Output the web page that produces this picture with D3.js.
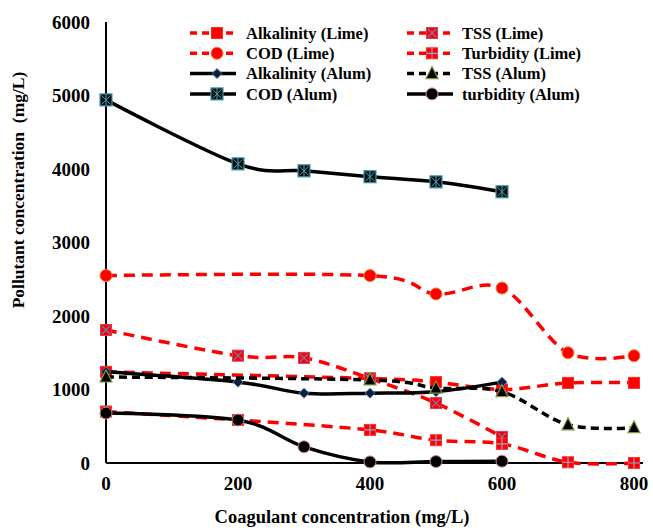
<!DOCTYPE html>
<html>
<head>
<meta charset="utf-8">
<script src="https://cdn.jsdelivr.net/npm/d3@7"></script>
<style>
body { margin: 0; background: #fff; }
text { font-family: "Liberation Serif", "Times New Roman", serif; font-weight: bold; }
</style>
</head>
<body>
<div id="chart"></div>
<script>
var width = 653
var height = 530

// coagulant doses (mg/L)
var xTicks = [0, 200, 400, 600, 800]
var yTicks = [0, 1000, 2000, 3000, 4000, 5000, 6000]

var alkLimeX = [0, 400, 500, 600, 700, 800]
var alkLimeY = [1240, 1150, 1100, 1000, 1090, 1090]
var tssLimeX = [0, 200, 300, 400, 500, 600]
var tssLimeY = [1810, 1460, 1430, 1150, 815, 355]
var codLimeX = [0, 400, 500, 600, 700, 800]
var codLimeY = [2550, 2550, 2300, 2380, 1500, 1460]
var turbLimeX = [0, 200, 400, 500, 600, 700, 800]
var turbLimeY = [700, 585, 450, 310, 260, 10, 0]
var alkAlumX = [0, 200, 300, 400, 500, 600]
var alkAlumY = [1240, 1100, 950, 950, 970, 1100]
var tssAlumX = [0, 400, 500, 600, 700, 800]
var tssAlumY = [1170, 1130, 1020, 970, 520, 480]
var codAlumX = [0, 200, 300, 400, 500, 600]
var codAlumY = [4940, 4070, 3975, 3895, 3825, 3690]
var turbAlumX = [0, 200, 300, 400, 500, 600]
var turbAlumY = [680, 585, 220, 15, 20, 25]

var series = [
    {name: "Alkalinity (Lime)", xs: alkLimeX, ys: alkLimeY, color: "#ff0000", dash: "11,7", marker: "square"},
    {name: "TSS (Lime)", xs: tssLimeX, ys: tssLimeY, color: "#ff0000", dash: "11,7", marker: "squareX"},
    {name: "COD (Lime)", xs: codLimeX, ys: codLimeY, color: "#ff0000", dash: "11,7", marker: "circleRed"},
    {name: "Turbidity (Lime)", xs: turbLimeX, ys: turbLimeY, color: "#ff0000", dash: "11,7", marker: "squarePlus"},
    {name: "Alkalinity (Alum)", xs: alkAlumX, ys: alkAlumY, color: "#000000", dash: null, marker: "diamond"},
    {name: "TSS (Alum)", xs: tssAlumX, ys: tssAlumY, color: "#000000", dash: "8,5", marker: "triangle"},
    {name: "COD (Alum)", xs: codAlumX, ys: codAlumY, color: "#000000", dash: null, marker: "squareStar"},
    {name: "turbidity (Alum)", xs: turbAlumX, ys: turbAlumY, color: "#000000", dash: null, marker: "circleBlack"}
]

var svg = d3.select("#chart")
    .append("svg")
    .attr("width", width)
    .attr("height", height)

var x = d3.scaleLinear().domain([0, 800]).range([106, 634])
var y = d3.scaleLinear().domain([0, 6000]).range([463, 22])

// axes (no tick marks, just the lines and labels)
svg.append("line")
    .attr("x1", x(0)).attr("x2", x(0))
    .attr("y1", y(6000)).attr("y2", y(0))
    .attr("stroke", "#000").attr("stroke-width", 2)
svg.append("line")
    .attr("x1", x(0)).attr("x2", 643)
    .attr("y1", y(0)).attr("y2", y(0))
    .attr("stroke", "#000").attr("stroke-width", 2)

svg.selectAll(".ytick")
    .data(yTicks)
    .enter().append("text")
    .attr("class", "ytick")
    .attr("x", 90)
    .attr("y", d => y(d))
    .attr("dy", "0.35em")
    .attr("text-anchor", "end")
    .style("font-size", "19px")
    .text(d => d)

svg.selectAll(".xtick")
    .data(xTicks)
    .enter().append("text")
    .attr("class", "xtick")
    .attr("x", d => x(d))
    .attr("y", 490)
    .attr("text-anchor", "middle")
    .style("font-size", "19px")
    .text(d => d)

svg.append("text")
    .attr("x", 342)
    .attr("y", 523)
    .attr("text-anchor", "middle")
    .style("font-size", "18.5px")
    .text("Coagulant concentration (mg/L)")

svg.append("text")
    .attr("transform", "translate(24,190) rotate(-90)")
    .attr("text-anchor", "middle")
    .style("font-size", "17.5px")
    .style("white-space", "pre")
    .text("Pollutant concentration  (mg/L)")

var line = d3.line()
    .x(d => x(d[0]))
    .y(d => y(d[1]))
    .curve(d3.curveCardinal)

function drawMarker(g, type) {
    if (type === "square") {
        g.append("rect").attr("x", -5.5).attr("y", -5.5).attr("width", 11).attr("height", 11)
            .attr("fill", "#ff0000").attr("stroke", "#ff2a2a").attr("stroke-width", 1)
    } else if (type === "squareX") {
        g.append("rect").attr("x", -5.5).attr("y", -5.5).attr("width", 11).attr("height", 11)
            .attr("fill", "#ff0000").attr("stroke", "#d04060").attr("stroke-width", 1)
        g.append("path").attr("d", "M-4,-4L4,4M-4,4L4,-4")
            .attr("stroke", "#6a7fc0").attr("stroke-width", 1.2)
    } else if (type === "circleRed") {
        g.append("circle").attr("r", 6)
            .attr("fill", "#ff0000").attr("stroke", "#f08030").attr("stroke-width", 1)
    } else if (type === "squarePlus") {
        g.append("rect").attr("x", -5.5).attr("y", -5.5).attr("width", 11).attr("height", 11)
            .attr("fill", "#ff0000").attr("stroke", "#ff3030").attr("stroke-width", 1)
        g.append("path").attr("d", "M0,-5.5L0,5.5M-5.5,0L5.5,0")
            .attr("stroke", "#8fa8d8").attr("stroke-width", 1.2)
    } else if (type === "diamond") {
        g.append("path").attr("d", "M0,-5L5,0L0,5L-5,0Z")
            .attr("fill", "#0f1f3a").attr("stroke", "#4a78b0").attr("stroke-width", 1)
    } else if (type === "triangle") {
        g.append("path").attr("d", "M0,-7L6,5L-6,5Z")
            .attr("fill", "#000").attr("stroke", "#7a9a40").attr("stroke-width", 1.2)
    } else if (type === "squareStar") {
        g.append("rect").attr("x", -6).attr("y", -6).attr("width", 12).attr("height", 12)
            .attr("fill", "#0a0a0a").attr("stroke", "#3a9ab0").attr("stroke-width", 1.2)
        g.append("path").attr("d", "M0,-6L0,6M-4.5,-4.5L4.5,4.5M-4.5,4.5L4.5,-4.5")
            .attr("stroke", "#40a8c0").attr("stroke-width", 1)
    } else if (type === "circleBlack") {
        g.append("circle").attr("r", 6)
            .attr("fill", "#000").attr("stroke", "#d08a8a").attr("stroke-width", 1)
    }
}

series.forEach(function(s) {
    var pts = s.xs.map((v, i) => [v, s.ys[i]])
    var g = svg.append("g").attr("class", "series")
    g.append("path")
        .attr("d", line(pts))
        .attr("fill", "none")
        .attr("stroke", s.color)
        .attr("stroke-width", 3.5)
        .attr("stroke-dasharray", s.dash)
    g.selectAll(".pt")
        .data(pts)
        .enter().append("g")
        .attr("class", "pt")
        .attr("transform", d => "translate(" + x(d[0]) + "," + y(d[1]) + ")")
        .each(function() { drawMarker(d3.select(this), s.marker) })
})

// legend, two columns, read row by row
var legend = svg.append("g").attr("class", "legend")
series.forEach(function(s, i) {
    var col = i % 2, row = Math.floor(i / 2)
    var lx = col === 0 ? 190 : 407
    var ly = 33 + row * 20.3
    var item = legend.append("g").attr("transform", "translate(" + lx + "," + ly + ")")
    item.append("line")
        .attr("x1", 0).attr("x2", 46)
        .attr("stroke", s.color).attr("stroke-width", 3.5)
        .attr("stroke-dasharray", s.dash ? "7,5" : null)
    var m = item.append("g").attr("transform", "translate(" + (col === 0 ? 27 : 25) + ",0)")
    drawMarker(m, s.marker)
    item.append("text")
        .attr("x", col === 0 ? 56 : 55)
        .attr("dy", "0.35em")
        .style("font-size", "16.5px")
        .text(s.name)
})
</script>
</body>
</html>
